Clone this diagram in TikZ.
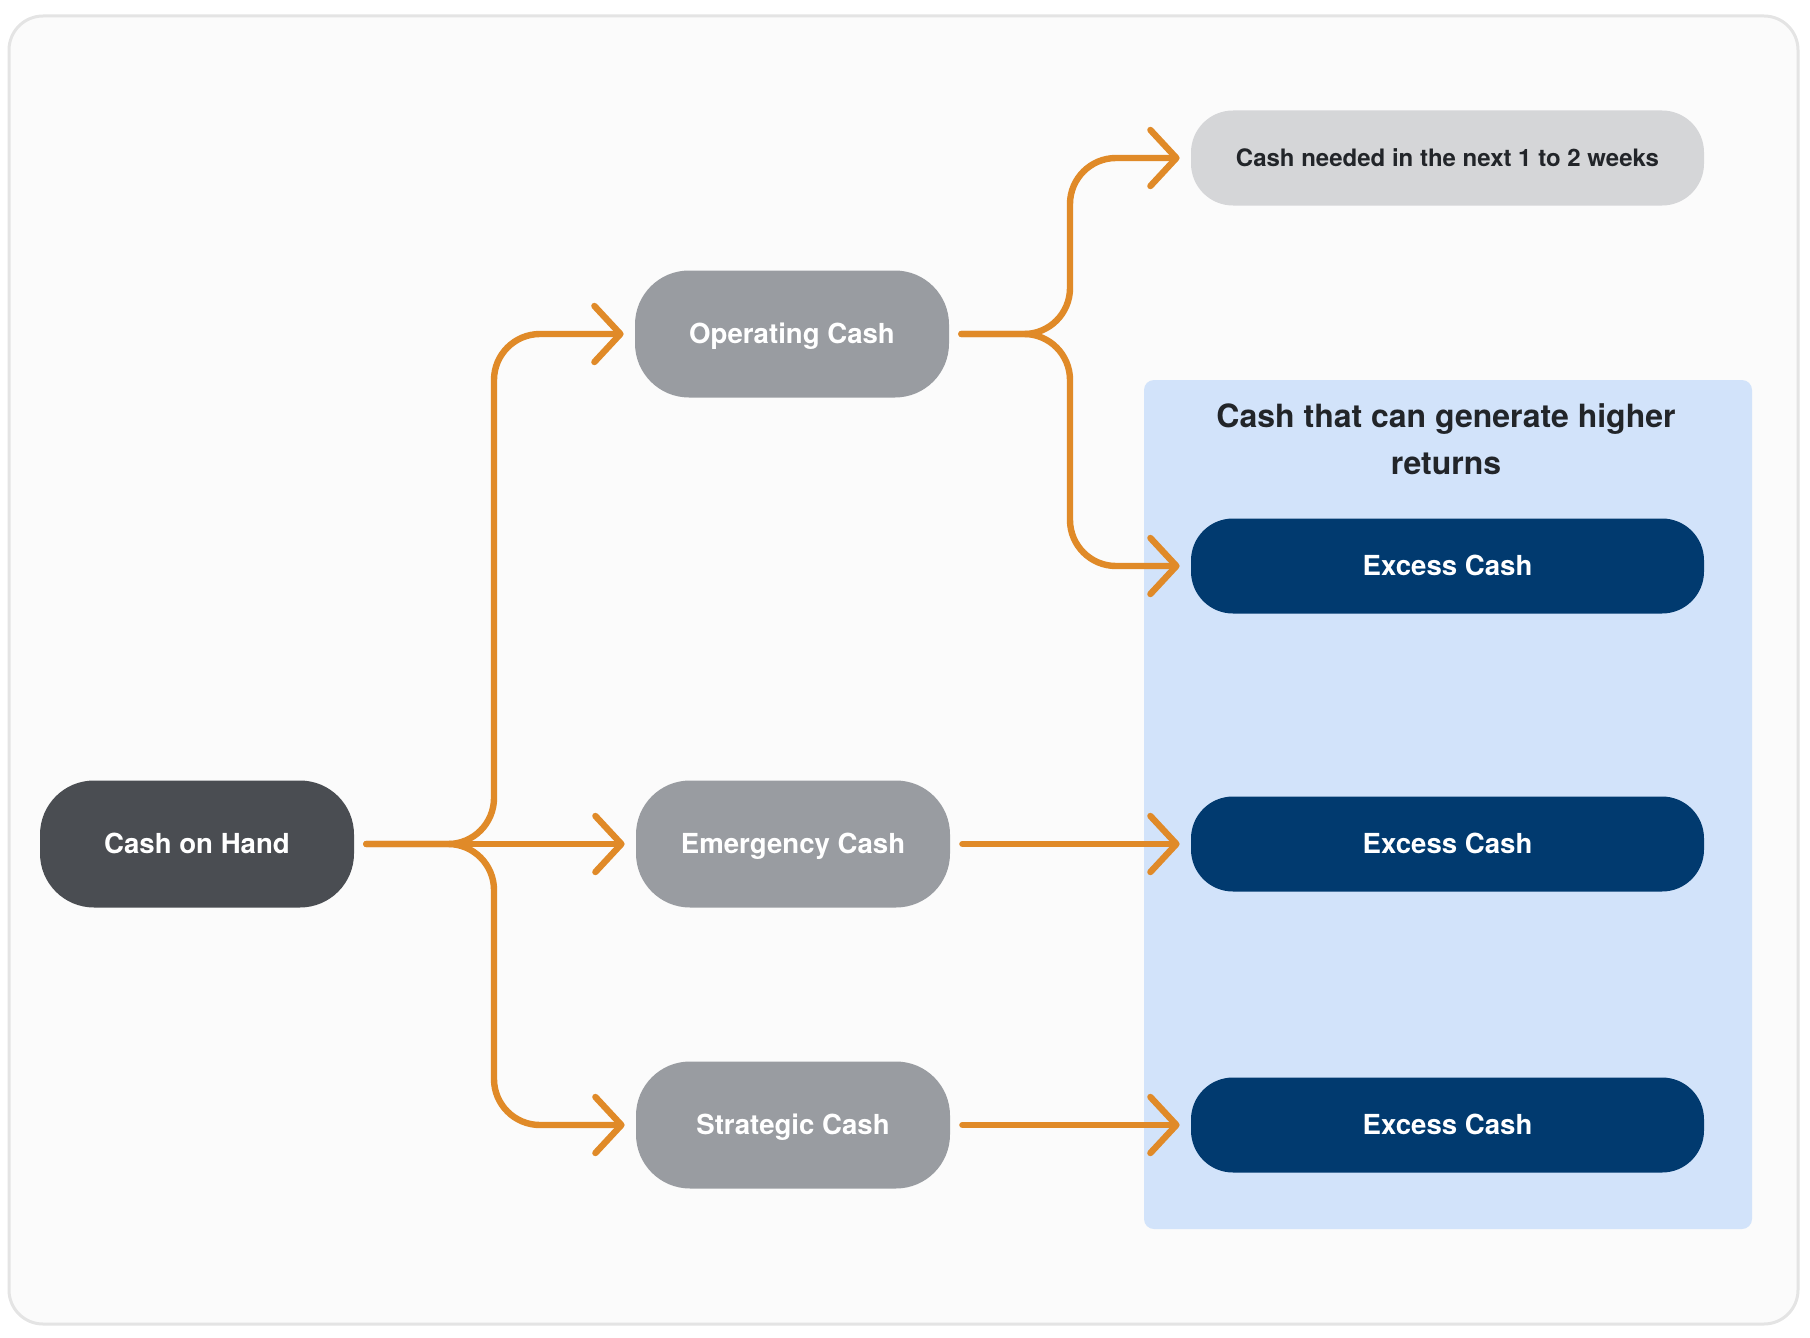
\documentclass[tikz,border=0pt]{standalone}
\usepackage{fontspec}
\setmainfont{TeX Gyre Heros}
\usetikzlibrary{arrows.meta,calc}
\definecolor{bgc}{HTML}{FBFBFB}
\definecolor{framec}{HTML}{E4E4E4}
\definecolor{darkc}{HTML}{4A4D52}
\definecolor{midc}{HTML}{999CA1}
\definecolor{lightc}{HTML}{D5D6D8}
\definecolor{navyc}{HTML}{013A6F}
\definecolor{regc}{HTML}{D2E3FA}
\definecolor{orangec}{HTML}{E08A28}
\definecolor{inkc}{HTML}{222529}
\begin{document}
\begin{tikzpicture}[x=0.5pt,y=-0.5pt,
  pill/.style={draw=none, rectangle, font=\bfseries\fontsize{13.8}{16}\selectfont, inner sep=0pt,
    text height=9.9pt, text depth=0pt},
  bigpill/.style={pill, minimum width=157pt, minimum height=63.5pt, rounded corners=27pt},
  widepill/.style={pill, minimum width=256.5pt, minimum height=47.5pt, rounded corners=21pt},
  flow/.style={draw=orangec, line width=3.2pt, line cap=round, line join=round, rounded corners=23pt,
    shorten <=6pt, shorten >=5.5pt, -{Straight Barb[length=13pt,width=28pt,round]}}
]
\useasboundingbox (0,0) rectangle (1810,1338);
\draw[fill=bgc, draw=framec, line width=1.5pt, rounded corners=17pt] (9,16) rectangle (1798,1324);

% region
\node[draw=none, fill=regc, rounded corners=5pt, minimum width=304pt, minimum height=424.5pt, inner sep=0pt] (grp) at (1448,804.5) {};
\node[font=\bfseries\fontsize{16}{23.5}\selectfont, text=inkc, align=center] (title) at (1446,439.5) {Cash that can generate higher\\returns};

% nodes
\node[bigpill, fill=darkc, text=white] (coh) at (197,844) {Cash on Hand};
\node[bigpill, fill=midc, text=white] (op) at (792,334) {Operating Cash};
\node[bigpill, fill=midc, text=white] (em) at (793,844) {Emergency Cash};
\node[bigpill, fill=midc, text=white] (st) at (793,1125) {Strategic Cash};
\node[widepill, fill=lightc, text=inkc, font=\bfseries\fontsize{12}{14}\selectfont, text height=8.6pt] (need) at (1447.5,158) {Cash needed in the next 1 to 2 weeks};
\node[widepill, fill=navyc, text=white] (ex1) at (1447.5,566) {Excess Cash};
\node[widepill, fill=navyc, text=white] (ex2) at (1447.5,844) {Excess Cash};
\node[widepill, fill=navyc, text=white] (ex3) at (1447.5,1125) {Excess Cash};

\coordinate (b1) at (494,0);
\coordinate (b2) at (1070,0);

% connectors
\draw[flow] (coh.east) -- (b1 |- coh.east) -- (b1 |- op.west) -- (op.west);
\draw[flow] (coh.east) -- (b1 |- coh.east) -- (b1 |- st.west) -- (st.west);
\draw[flow] (coh.east) -- (em.west);
\draw[flow] (op.east) -- (b2 |- op.east) -- (b2 |- need.west) -- (need.west);
\draw[flow] (op.east) -- (b2 |- op.east) -- (b2 |- ex1.west) -- (ex1.west);
\draw[flow] (em.east) -- (ex2.west);
\draw[flow] (st.east) -- (ex3.west);
\end{tikzpicture}
\end{document}
